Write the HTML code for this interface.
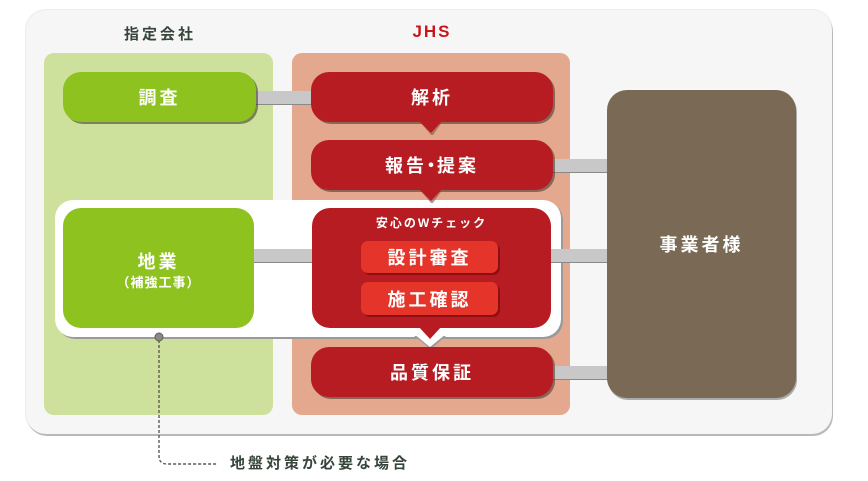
<!DOCTYPE html>
<html><head><meta charset="utf-8">
<style>
*{margin:0;padding:0;box-sizing:border-box}
html,body{width:868px;height:481px;background:#fff;overflow:hidden}
body{position:relative;font-family:"Liberation Sans","Noto Sans CJK JP",sans-serif;font-weight:bold}
.a{position:absolute}
.outer{left:26px;top:10px;width:806px;height:424px;border-radius:20px;background:#f6f6f6;box-shadow:1px 2px 0 #b8b8b8, 0 0 0 1px #ececec}
.col{top:53px;height:362px;border-radius:10px}
.box{color:#fff;display:flex;align-items:center;justify-content:center;text-align:center;letter-spacing:3px;font-size:18px;box-shadow:2px 2px 0 rgba(60,50,40,.55)}
.g{background:#8dc21f;border-radius:18px}
.r{background:#b71c22;border-radius:18px}
.bar{background:#c8c8c8;height:13px;box-shadow:0 1px 0 #8a8a8a}
.btn{background:#e5352a;border-radius:7px;color:#fff;font-size:18px;letter-spacing:3px;display:flex;align-items:center;justify-content:center;box-shadow:2px 2px 0 #8d0f14}
.ttl{font-size:15px;letter-spacing:3px;text-align:center}
</style></head><body>
<div class="a outer"></div>
<div class="a ttl" style="left:108px;top:23px;width:104px;color:#36443a">指定会社</div>
<div class="a ttl" style="left:380px;top:22px;width:104px;color:#c8161d;letter-spacing:2px;font-size:17px">JHS</div>

<div class="a col" style="left:44px;width:229px;background:#cde09c"></div>
<div class="a col" style="left:292px;width:278px;background:#e4a88f"></div>

<!-- white band -->
<div class="a" style="left:55px;top:200px;width:506px;height:137px;background:#fff;border-radius:18px;box-shadow:2px 2px 0 #9a9a9a"></div>
<svg class="a" style="left:0;top:0" width="868" height="481">
  <polygon points="414,336 446,336 431,349" fill="#9a9a9a"/>
  <polygon points="414,334 446,334 430,347" fill="#fff"/>
</svg>

<!-- connectors -->
<div class="a bar" style="left:254px;top:91px;width:60px"></div>
<div class="a bar" style="left:550px;top:159px;width:60px"></div>
<div class="a bar" style="left:550px;top:249px;width:60px"></div>
<div class="a bar" style="left:550px;top:366px;width:60px"></div>
<div class="a bar" style="left:252px;top:249px;width:62px"></div>

<!-- brown box -->
<div class="a box" style="left:607px;top:90px;width:189px;height:308px;background:#7a6a55;border-radius:20px;box-shadow:1px 2px 0 #aaa">事業者様</div>

<!-- top row -->
<div class="a box g" style="left:63px;top:72px;width:193px;height:50px">調査</div>
<div class="a box r" style="left:311px;top:72px;width:242px;height:50px">解析</div>
<div class="a box r" style="left:311px;top:140px;width:242px;height:50px">報告<span style="letter-spacing:0;margin:0 -3px 0 -5px">・</span>提案</div>

<svg class="a" style="left:0;top:0" width="868" height="481">
  <polygon points="419,121 443,121 433,135 431,135" fill="#7d5a4a" opacity=".6"/>
  <polygon points="418,120 443,120 431,133" fill="#b71c22"/>
  <polygon points="419,189 443,189 433,203 431,203" fill="#7d5a4a" opacity=".6"/>
  <polygon points="418,188 443,188 431,201" fill="#b71c22"/>
</svg>

<div class="a box g" style="left:63px;top:208px;width:191px;height:120px;flex-direction:column;box-shadow:none">
  <div style="font-size:18px;letter-spacing:3px;line-height:24px;margin-top:5px">地業</div>
  <div style="font-size:13px;letter-spacing:1px;line-height:18px">（補強工事）</div>
</div>

<div class="a r" style="left:312px;top:208px;width:239px;height:120px;border-radius:18px"></div>
<svg class="a" style="left:0;top:0" width="868" height="481">
  <polygon points="418,326 442,326 430,339" fill="#b71c22"/>
</svg>
<div class="a" style="left:312px;top:214px;width:239px;text-align:center;color:#fff;font-size:12px;letter-spacing:2px">安心のWチェック</div>
<div class="a btn" style="left:361px;top:241px;width:137px;height:32px">設計審査</div>
<div class="a btn" style="left:361px;top:282px;width:137px;height:33px">施工確認</div>

<div class="a box r" style="left:311px;top:347px;width:242px;height:50px">品質保証</div>

<!-- dashed leader -->
<svg class="a" style="left:0;top:0" width="868" height="481">
  <path d="M159,340 L159,456 Q159,464 167,464 L218,464" fill="none" stroke="#5e5a50" stroke-width="1.4" stroke-dasharray="3,2"/>
  <circle cx="159" cy="337" r="4" fill="#8a8a80" stroke="#5e5e55" stroke-width="1"/>
</svg>
<div class="a" style="left:230px;top:454px;font-size:15px;letter-spacing:3px;color:#36443a;white-space:nowrap;line-height:20px">地盤対策が必要な場合</div>
</body></html>
